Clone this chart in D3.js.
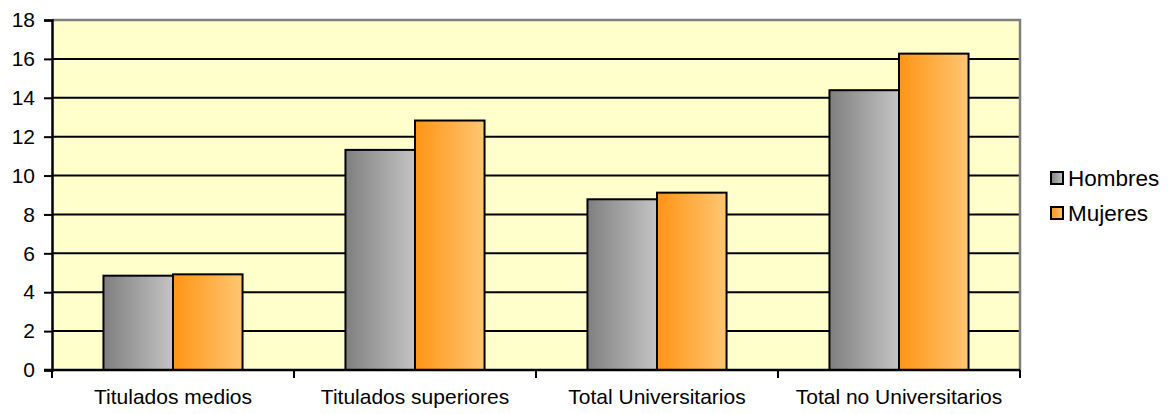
<!DOCTYPE html>
<html>
<head>
<meta charset="utf-8">
<script src="https://d3js.org/d3.v7.min.js"></script>
<style>
body { margin: 0; background: #fff; }
text { font-family: "Liberation Sans", Arial, sans-serif; fill: #000; }
</style>
</head>
<body>
<div class="container"></div>
<script>
// data
var categories = ["Titulados medios", "Titulados superiores", "Total Universitarios", "Total no Universitarios"];
var seriesNames = ["Hombres", "Mujeres"];
var hombres = [4.85, 11.32, 8.78, 14.39];
var mujeres = [4.92, 12.83, 9.12, 16.27];
var yTicks = [0, 2, 4, 6, 8, 10, 12, 14, 16, 18];

var W = 1172, H = 414;
var plot = { left: 52, top: 20, right: 1020, bottom: 370 };

function makeStage(w, h) {
	var stage = d3.select(".container")
	.insert("svg")
	.attr("width", w)
	.attr("height", h);
	return stage;
}

var svg = makeStage(W, H);

// gradients, dark on the left, light on the right
var defs = svg.append("defs");
function makeGradient(id, c1, c2) {
	var g = defs.append("linearGradient").attr("id", id)
		.attr("x1", "0%").attr("x2", "100%").attr("y1", "0%").attr("y2", "0%");
	g.append("stop").attr("offset", "0%").attr("stop-color", c1);
	g.append("stop").attr("offset", "100%").attr("stop-color", c2);
}
makeGradient("gHombres", "#7f7f7f", "#c4c4c4");
makeGradient("gMujeres", "#ff9414", "#ffc673");
var fills = ["url(#gHombres)", "url(#gMujeres)"];

var x0 = d3.scaleBand().domain(categories).range([plot.left, plot.right]).paddingInner(0).paddingOuter(0);
var x1 = d3.scaleBand().domain(seriesNames).range([0, x0.bandwidth()]).paddingInner(0).paddingOuter(0.74);
var y = d3.scaleLinear().domain([0, 18]).range([plot.bottom, plot.top]);

// plot background
svg.append("rect")
	.attr("x", plot.left).attr("y", plot.top)
	.attr("width", plot.right - plot.left).attr("height", plot.bottom - plot.top)
	.style("fill", "#ffffcc");

// gridlines
svg.append("g").selectAll("line")
	.data(yTicks.filter(function(d) { return d > 0 && d < 18; }))
	.enter().append("line")
	.attr("x1", plot.left).attr("x2", plot.right)
	.attr("y1", function(d) { return y(d); }).attr("y2", function(d) { return y(d); })
	.style("stroke", "#000").style("stroke-width", 2);

// grey frame top and right
svg.append("path")
	.attr("d", "M" + plot.left + "," + plot.top + "H" + plot.right + "V" + plot.bottom)
	.style("fill", "none").style("stroke", "#808080").style("stroke-width", 2.5);

// bars
var data = categories.map(function(c, i) { return { cat: c, vals: [hombres[i], mujeres[i]] }; });
var groups = svg.append("g").selectAll("g")
	.data(data).enter().append("g")
	.attr("transform", function(d) { return "translate(" + x0(d.cat) + ",0)"; });
groups.selectAll("rect")
	.data(function(d) { return d.vals.map(function(v, j) { return { name: seriesNames[j], v: v, j: j }; }); })
	.enter().append("rect")
	.attr("x", function(d) { return x1(d.name); })
	.attr("y", function(d) { return y(d.v); })
	.attr("width", x1.bandwidth())
	.attr("height", function(d) { return y(0) - y(d.v); })
	.style("fill", function(d) { return fills[d.j]; })
	.style("stroke", "#000").style("stroke-width", 2);

// y axis
var yAxis = svg.append("g")
	.attr("transform", "translate(" + plot.left + ",0)")
	.call(d3.axisLeft(y).tickValues(yTicks).tickSize(8).tickPadding(9));
yAxis.select(".domain").style("stroke", "#000").style("stroke-width", 2.5);
yAxis.selectAll(".tick line").style("stroke", "#000").style("stroke-width", 2);
yAxis.selectAll("text").style("font-size", "21px").style("font-family", "Liberation Sans, Arial, sans-serif");

// x axis, ticks sit on the group boundaries
var xAxis = svg.append("g")
	.attr("transform", "translate(0," + plot.bottom + ")")
	.call(d3.axisBottom(x0).tickSize(0).tickPadding(19));
xAxis.select(".domain").remove();
xAxis.selectAll("text").style("font-size", "21px").style("font-family", "Liberation Sans, Arial, sans-serif");
svg.append("line")
	.attr("x1", plot.left - 8).attr("x2", plot.right)
	.attr("y1", plot.bottom).attr("y2", plot.bottom)
	.style("stroke", "#000").style("stroke-width", 2.5);
svg.append("g").selectAll("line")
	.data(categories.concat(["end"]))
	.enter().append("line")
	.attr("x1", function(d, i) { return plot.left + i * x0.step(); })
	.attr("x2", function(d, i) { return plot.left + i * x0.step(); })
	.attr("y1", plot.bottom).attr("y2", plot.bottom + 8)
	.style("stroke", "#000").style("stroke-width", 2);

// legend
var legend = svg.append("g").attr("transform", "translate(1051,172)");
var items = legend.selectAll("g").data(seriesNames).enter().append("g")
	.attr("transform", function(d, i) { return "translate(0," + (i * 35) + ")"; });
items.append("rect")
	.attr("width", 12).attr("height", 12)
	.style("fill", function(d, i) { return fills[i]; })
	.style("stroke", "#000").style("stroke-width", 2);
items.append("text")
	.attr("x", 17).attr("y", 6).attr("dy", "0.35em")
	.style("font-size", "22.5px")
	.text(function(d) { return d; });
</script>
</body>
</html>
